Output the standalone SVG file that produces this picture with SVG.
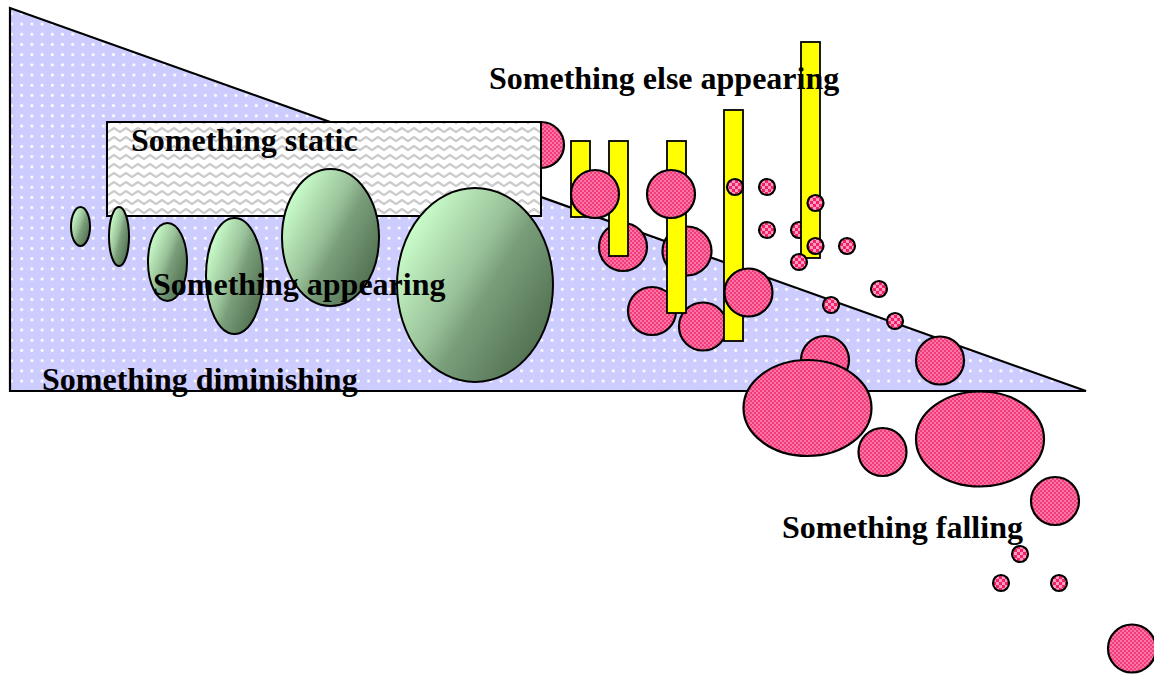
<svg xmlns="http://www.w3.org/2000/svg" width="1154" height="675" viewBox="0 0 1154 675">
  <defs>
    <!-- lavender with white dots -->
    <pattern id="dots" patternUnits="userSpaceOnUse" x="16.7" y="19" width="10.2" height="10.2">
      <rect width="10.2" height="10.2" fill="#ccccff"/>
      <circle cx="5" cy="5" r="1.5" fill="#ffffff"/>
    </pattern>
    <!-- grey zigzag on white -->
    <pattern id="zigzag" patternUnits="userSpaceOnUse" x="0" y="0" width="12" height="9">
      <rect width="12" height="9" fill="#ffffff"/>
      <path d="M-3,4 L0,6 L6,2 L12,6 L15,4" fill="none" stroke="#cbcbcb" stroke-width="2.2" stroke-linejoin="round"/>
    </pattern>
    <!-- fine pink checker for large discs -->
    <pattern id="pinkFine" patternUnits="userSpaceOnUse" width="4" height="4">
      <rect width="4" height="4" fill="#f03c7b"/>
      <rect width="2" height="2" fill="#ff74a4"/>
      <rect x="2" y="2" width="2" height="2" fill="#ff74a4"/>
    </pattern>
    <!-- coarser pink checker for small discs -->
    <pattern id="pinkCoarse" patternUnits="userSpaceOnUse" width="6" height="6">
      <rect width="6" height="6" fill="#f5206a"/>
      <rect width="3" height="3" fill="#ff9cc0"/>
      <rect x="3" y="3" width="3" height="3" fill="#ff9cc0"/>
    </pattern>
    <linearGradient id="green" x1="0.15" y1="0.1" x2="0.95" y2="0.7">
      <stop offset="0" stop-color="#ccffcc"/>
      <stop offset="0.45" stop-color="#98c098"/>
      <stop offset="0.6" stop-color="#7a9e7a"/>
      <stop offset="1" stop-color="#557555"/>
    </linearGradient>
  </defs>
  <style>
    .lbl { font-family: "Liberation Serif", "Times New Roman", serif; font-weight: bold; font-size: 32px; fill: #000000; }
    .egg { fill: url(#green); stroke: #000000; stroke-width: 2; }
    .big { fill: url(#pinkFine); stroke: #000000; stroke-width: 2.2; }
    .small { fill: url(#pinkCoarse); stroke: #000000; stroke-width: 2.2; }
    .bar { fill: #ffff00; stroke: #000000; stroke-width: 1.8; }
  </style>

  <rect width="1154" height="675" fill="#ffffff"/>

  <!-- diminishing wedge -->
  <g id="diminishing">
    <polygon points="10,8 10,391 1086,391" fill="url(#dots)" stroke="#000000" stroke-width="2.2" stroke-linejoin="miter"/>
  </g>

  <!-- static block with disc peeking out behind it -->
  <g id="static">
    <circle class="big" cx="541" cy="145" r="23"/>
    <rect x="107" y="122" width="434" height="94" fill="url(#zigzag)" stroke="#000000" stroke-width="2"/>
    <text class="lbl" x="131" y="151">Something static</text>
  </g>

  <!-- growing ovals -->
  <g id="appearing">
    <ellipse class="egg" cx="80.5" cy="226.5" rx="9.5" ry="19.5"/>
    <ellipse class="egg" cx="119" cy="236.5" rx="10" ry="29.5"/>
    <ellipse class="egg" cx="167.5" cy="262" rx="19.5" ry="39"/>
    <ellipse class="egg" cx="234.5" cy="276" rx="28.5" ry="58"/>
    <ellipse class="egg" cx="330.5" cy="237.5" rx="48.5" ry="68.5"/>
    <ellipse class="egg" cx="475" cy="285" rx="78" ry="97"/>
    <text class="lbl" x="153" y="295">Something appearing</text>
  </g>

  <!-- bars with discs around them -->
  <g id="else-appearing">
    <!-- discs behind the bars -->
    <circle class="big" cx="623" cy="247" r="24"/>
    <circle class="big" cx="687" cy="251" r="24.5"/>
    <circle class="big" cx="652" cy="311" r="24"/>
    <circle class="big" cx="703" cy="326.5" r="24"/>
    <circle class="small" cx="799" cy="230" r="8"/>
    <!-- bars -->
    <rect class="bar" x="571" y="141" width="19" height="76"/>
    <rect class="bar" x="609" y="141" width="19" height="115"/>
    <rect class="bar" x="667" y="141" width="19" height="172"/>
    <rect class="bar" x="724" y="110" width="19" height="231"/>
    <rect class="bar" x="801" y="42" width="19" height="216"/>
    <!-- discs in front of the bars -->
    <circle class="big" cx="595" cy="194" r="24"/>
    <circle class="big" cx="671" cy="194" r="24"/>
    <circle class="big" cx="748.5" cy="292.5" r="24"/>
    <circle class="small" cx="735" cy="187" r="8"/>
    <circle class="small" cx="767" cy="187" r="8"/>
    <circle class="small" cx="767" cy="230" r="8"/>
    <circle class="small" cx="815.5" cy="203" r="8"/>
    <circle class="small" cx="815.5" cy="246" r="8"/>
    <circle class="small" cx="799" cy="262" r="8"/>
    <circle class="small" cx="847" cy="246" r="8"/>
    <circle class="small" cx="879" cy="289" r="8"/>
    <circle class="small" cx="831" cy="305" r="8"/>
    <circle class="small" cx="895" cy="321" r="8"/>
    <text class="lbl" x="489" y="89">Something else appearing</text>
  </g>

  <!-- tumbling discs -->
  <g id="falling">
    <circle class="big" cx="825" cy="360" r="24"/>
    <ellipse class="big" cx="807.5" cy="408" rx="64" ry="48"/>
    <circle class="big" cx="940" cy="360.5" r="24"/>
    <circle class="big" cx="882.5" cy="452" r="24"/>
    <ellipse class="big" cx="980" cy="439" rx="64" ry="47.5"/>
    <circle class="big" cx="1055" cy="501" r="24"/>
    <circle class="small" cx="1020" cy="554" r="8"/>
    <circle class="small" cx="1001" cy="583" r="8"/>
    <circle class="small" cx="1059" cy="583" r="8"/>
    <circle class="big" cx="1132" cy="648.5" r="24"/>
    <text class="lbl" x="782" y="538">Something falling</text>
  </g>

  <g id="diminishing-label">
    <text class="lbl" x="42" y="390">Something diminishing</text>
  </g>
</svg>
